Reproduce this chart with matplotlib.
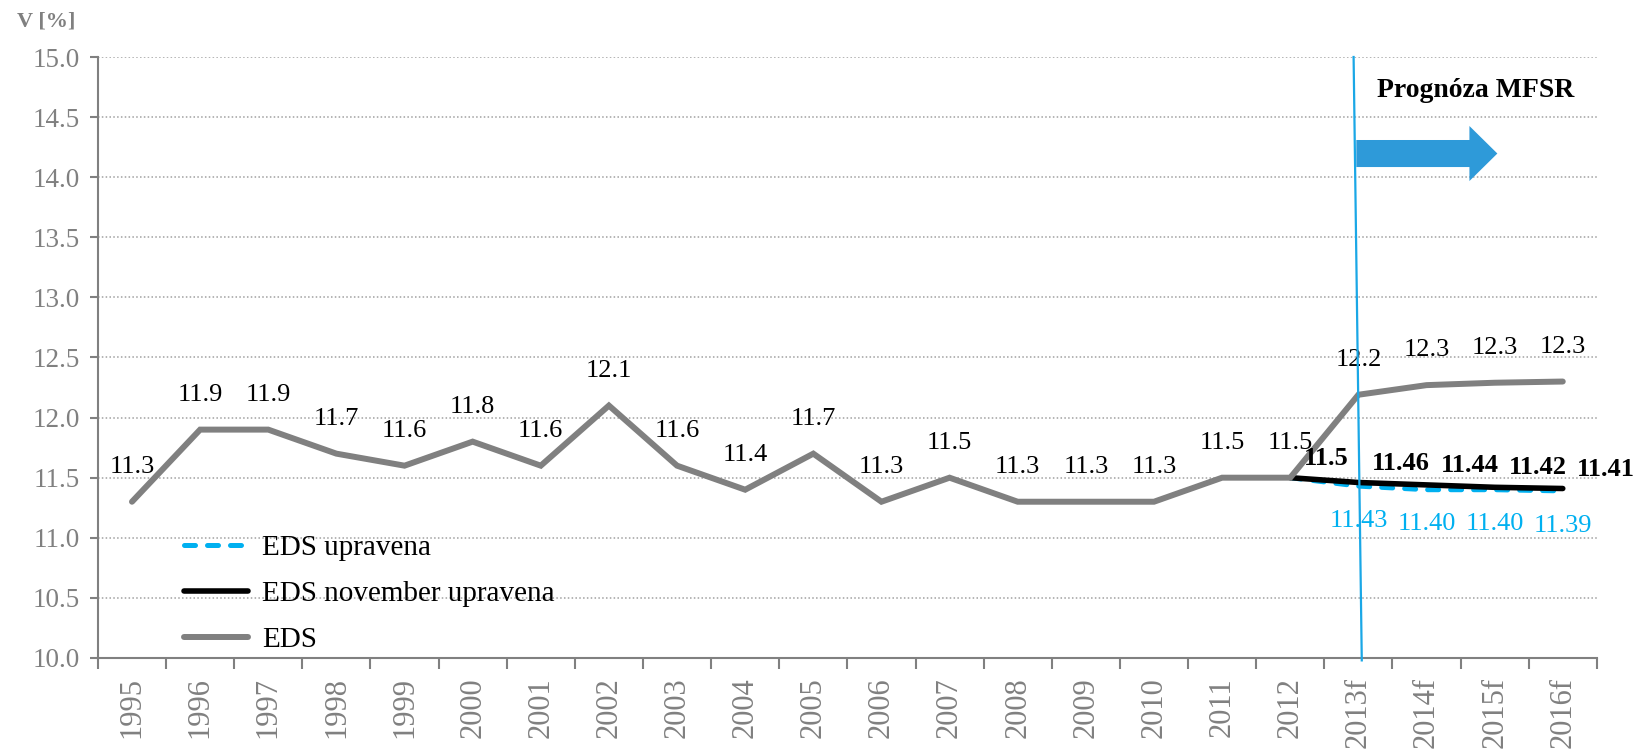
import numpy as np
import matplotlib.pyplot as plt
from matplotlib.patches import FancyArrow

plt.rcParams['font.family'] = ['Liberation Serif', 'DejaVu Serif']

years = ['1995', '1996', '1997', '1998', '1999', '2000', '2001', '2002', '2003',
         '2004', '2005', '2006', '2007', '2008', '2009', '2010', '2011', '2012',
         '2013f', '2014f', '2015f', '2016f']
eds = [11.3, 11.9, 11.9, 11.7, 11.6, 11.8, 11.6, 12.1, 11.6, 11.4, 11.7, 11.3,
       11.5, 11.3, 11.3, 11.3, 11.5, 11.5, 12.19, 12.27, 12.29, 12.30]
# forecast series start at 2012
nov_upr = [11.5, 11.46, 11.44, 11.42, 11.41]
nov_upr_lbl = ['11.5', '11.46', '11.44', '11.42', '11.41']
upr = [11.5, 11.43, 11.40, 11.40, 11.39]
start = years.index('2012')

gray = '#808080'
blue = '#00b0f0'

x = np.arange(len(years))
xf = x[start:]

fig = plt.figure(figsize=(16.43, 7.55), dpi=100)
ax = fig.add_axes([0.0596, 0.1285, 0.9123, 0.796])

l1, = ax.plot(xf, upr, color=blue, lw=3.6, ls=(0, (2.2, 2.4)), zorder=3,
              dash_capstyle='round', label='EDS upravena')
l2, = ax.plot(xf, nov_upr, color='black', lw=4.0, zorder=4,
              solid_capstyle='round', label='EDS november upravena')
l3, = ax.plot(x, eds, color=gray, lw=4.3, zorder=5,
              solid_capstyle='round', solid_joinstyle='miter', label='EDS')

for xi, v in zip(x, eds):
    ax.annotate(f'{v:.1f}', (xi, v), xytext=(0, 25), textcoords='offset points',
                ha='center', va='center', fontsize=19, color='black', zorder=6)

for xi, v, t in zip(xf, nov_upr, nov_upr_lbl):
    ax.annotate(t, (xi, v), xytext=(10, 14), textcoords='offset points',
                ha='left', va='center', fontsize=19, fontweight='bold',
                color='black', zorder=6)

for xi, v in zip(xf[1:], upr[1:]):
    ax.annotate(f'{v:.2f}', (xi, v), xytext=(0, -25), textcoords='offset points',
                ha='center', va='center', fontsize=19, color=blue, zorder=6)

# forecast divider and arrow
ax.plot([17.93, 18.05], [15.0, 9.98], color='#1aa7e6', lw=1.6, zorder=7,
        clip_on=False)
ax.add_patch(FancyArrow(17.97, 14.197, 2.07, 0, width=0.225, head_width=0.458,
                        head_length=0.41, length_includes_head=True,
                        color='#2e9ad9', lw=0, zorder=7))
ax.text(19.72, 14.725, 'Prognóza MFSR', ha='center', va='center',
        fontsize=20, fontweight='bold', color='black')

ax.set_xlim(-0.5, len(years) - 0.5)
ax.set_ylim(10, 15)
ax.set_yticks(np.arange(10, 15.01, 0.5))
ax.set_yticklabels([f'{t:.1f}' for t in np.arange(10, 15.01, 0.5)])
ax.set_xticks(x)
ax.set_xticklabels(years, rotation=90)
ax.set_xticks(np.arange(-0.5, len(years), 1), minor=True)
ax.tick_params(axis='x', which='major', length=0, labelsize=22,
               labelcolor=gray, pad=14)
ax.tick_params(axis='x', which='minor', length=8, width=1.5, color=gray)
ax.tick_params(axis='y', length=6, width=1.5, color=gray, labelsize=19.5,
               labelcolor=gray, pad=7)

ax.grid(axis='y', color='#a0a0a0', ls=(0, (1, 1.5)), lw=1.1)
ax.set_axisbelow(True)
for s in ['top', 'right']:
    ax.spines[s].set_visible(False)
for s in ['left', 'bottom']:
    ax.spines[s].set_color(gray)
    ax.spines[s].set_linewidth(1.5)

fig.text(0.0103, 0.971, 'V [%]', ha='left', va='center', fontsize=16,
         fontweight='bold', color=gray)

ax.legend(handles=[l1, l2, l3], loc='upper left',
          bbox_to_anchor=(184 / 1643, 1 - 535 / 755),
          bbox_transform=fig.transFigure, borderaxespad=0, borderpad=0,
          frameon=False, fontsize=21, handlelength=2.19, labelspacing=0.66,
          handletextpad=0.5)

fig.savefig('out.png', dpi=100)
